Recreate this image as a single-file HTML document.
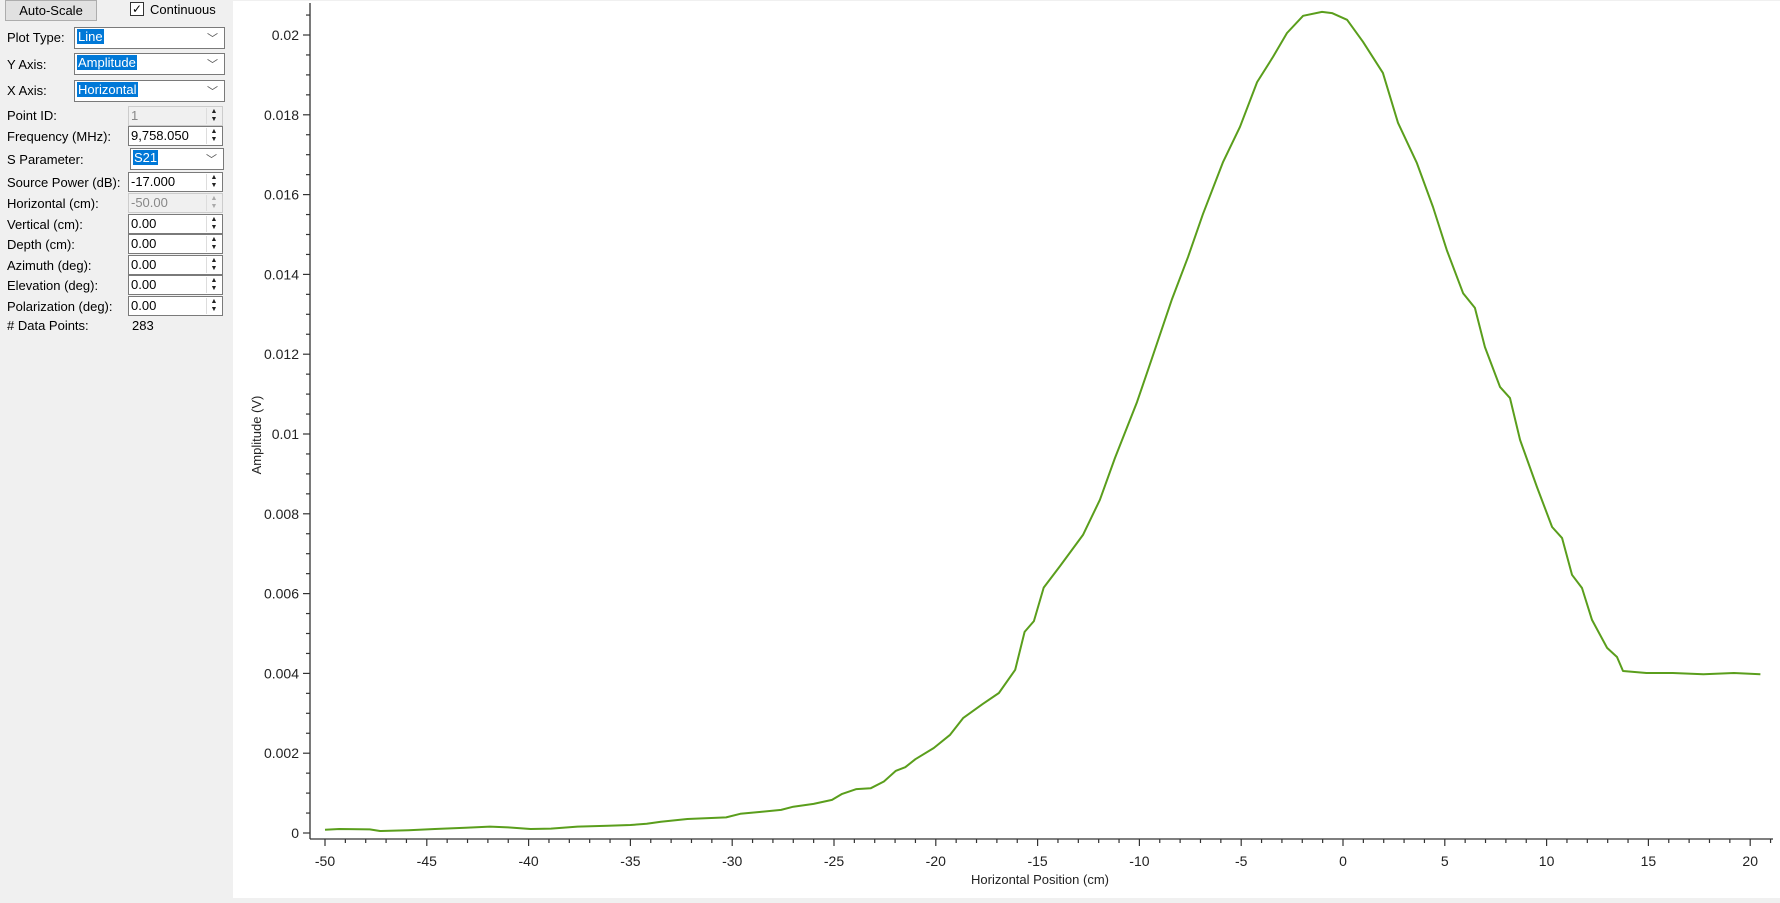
<!DOCTYPE html>
<html><head><meta charset="utf-8">
<style>
body{margin:0;width:1780px;height:903px;overflow:hidden;background:#f0f0f0;font-family:"Liberation Sans",sans-serif;position:relative}
.a{position:absolute}
.lbl{position:absolute;left:7px;font-size:13px;color:#000;line-height:16px}
.box{position:absolute;background:#fff;border:1px solid #7a7a7a;box-sizing:border-box;font-size:13px;line-height:18px;padding-left:2px}
.sel{background:#0078d7;color:#fff;padding:0 1px}
.dd{position:absolute;right:6px;top:2px;font-size:11px;color:#555}
.spin{position:absolute;right:1px;top:1px;width:14px;height:16px;border-left:1px solid #ddd;font-size:7px;line-height:8px;text-align:center;color:#222}
.dis{background:#f0f0f0;color:#888;border-color:#ccc}
</style></head><body>
<div class="a" style="left:5px;top:0;width:92px;height:21px;background:#e1e1e1;border:1px solid #adadad;box-sizing:border-box;font-size:13px;text-align:center;line-height:19px">Auto-Scale</div>
<div class="a" style="left:130px;top:2px;width:14px;height:14px;border:1px solid #333;box-sizing:border-box;background:#fff;font-size:12px;line-height:12px;text-align:center">✓</div>
<div class="a" style="left:150px;top:2px;font-size:13px">Continuous</div>

<div class="lbl" style="top:30px">Plot Type:</div>
<div class="box" style="left:74px;top:27px;width:151px;height:22px"><span class="sel">Line</span><span class="dd">﹀</span></div>
<div class="lbl" style="top:57px">Y Axis:</div>
<div class="box" style="left:74px;top:53px;width:151px;height:22px"><span class="sel">Amplitude</span><span class="dd">﹀</span></div>
<div class="lbl" style="top:83px">X Axis:</div>
<div class="box" style="left:74px;top:80px;width:151px;height:22px"><span class="sel">Horizontal</span><span class="dd">﹀</span></div>

<div class="lbl" style="top:108px">Point ID:</div>
<div class="box dis" style="left:128px;top:106px;width:95px;height:20px">1<div class="spin">▲<br>▼</div></div>
<div class="lbl" style="top:129px">Frequency (MHz):</div>
<div class="box" style="left:128px;top:126px;width:95px;height:20px">9,758.050<div class="spin">▲<br>▼</div></div>
<div class="lbl" style="top:152px">S Parameter:</div>
<div class="box" style="left:130px;top:148px;width:94px;height:22px"><span class="sel">S21</span><span class="dd">﹀</span></div>

<div class="lbl" style="top:175px">Source Power (dB):</div>
<div class="box" style="left:128px;top:172px;width:95px;height:20px">-17.000<div class="spin">▲<br>▼</div></div>
<div class="lbl" style="top:196px">Horizontal (cm):</div>
<div class="box dis" style="left:128px;top:193px;width:95px;height:20px">-50.00<div class="spin" style="color:#aaa">▲<br>▼</div></div>
<div class="lbl" style="top:217px">Vertical (cm):</div>
<div class="box" style="left:128px;top:214px;width:95px;height:20px">0.00<div class="spin">▲<br>▼</div></div>
<div class="lbl" style="top:237px">Depth (cm):</div>
<div class="box" style="left:128px;top:234px;width:95px;height:20px">0.00<div class="spin">▲<br>▼</div></div>
<div class="lbl" style="top:258px">Azimuth (deg):</div>
<div class="box" style="left:128px;top:255px;width:95px;height:20px">0.00<div class="spin">▲<br>▼</div></div>
<div class="lbl" style="top:278px">Elevation (deg):</div>
<div class="box" style="left:128px;top:275px;width:95px;height:20px">0.00<div class="spin">▲<br>▼</div></div>
<div class="lbl" style="top:299px">Polarization (deg):</div>
<div class="box" style="left:128px;top:296px;width:95px;height:20px">0.00<div class="spin">▲<br>▼</div></div>
<div class="lbl" style="top:318px">#&nbsp;Data Points:</div>
<div class="a" style="left:132px;top:318px;font-size:13px">283</div>

<svg id="chart" class="a" style="left:0;top:0" width="1780" height="903" xmlns="http://www.w3.org/2000/svg"></svg>
<script>
const xVals=[-50,-49.3,-47.8,-47.3,-45.9,-44.6,-43.1,-41.9,-41.0,-39.9,-38.9,-37.6,-36.1,-35.0,-34.2,-33.5,-32.2,-30.3,-29.6,-28.6,-27.6,-27.0,-26.0,-25.1,-24.6,-23.9,-23.2,-22.55,-21.96,-21.5,-21.0,-20.1,-19.3,-18.66,-17.7,-16.9,-16.1,-15.64,-15.18,-14.7,-13.9,-12.77,-11.94,-11.2,-10.12,-9.38,-8.4,-7.61,-6.88,-5.89,-5.06,-4.22,-3.44,-2.75,-1.96,-1.03,-0.54,0.2,0.98,1.96,2.7,3.63,4.42,5.1,5.9,6.48,6.97,7.71,8.2,8.7,9.53,10.27,10.76,11.25,11.74,12.23,12.97,13.46,13.75,14.9,16.2,17.7,19.2,20.5];
const ampVals=[0.00008,0.0001,0.00009,0.00005,0.00007,0.0001,0.00013,0.00016,0.00014,0.0001,0.00011,0.00016,0.00018,0.0002,0.00023,0.00028,0.00035,0.00039,0.00048,0.00053,0.00058,0.00066,0.00073,0.00083,0.00098,0.0011,0.00112,0.00129,0.00156,0.00165,0.00185,0.00213,0.00246,0.00288,0.00323,0.00351,0.00409,0.00504,0.00531,0.00615,0.00669,0.00747,0.00835,0.0094,0.0108,0.0119,0.01338,0.01444,0.01551,0.01682,0.0177,0.01882,0.01945,0.02005,0.02048,0.02058,0.02055,0.02038,0.01983,0.01905,0.0178,0.01679,0.01569,0.01461,0.01353,0.01316,0.01218,0.01118,0.0109,0.00985,0.00867,0.00767,0.00739,0.00647,0.00614,0.00534,0.00464,0.00441,0.00406,0.00401,0.00401,0.00398,0.00401,0.00398];
const xTickLabels=["-50","-45","-40","-35","-30","-25","-20","-15","-10","-5","0","5","10","15","20"];
const yTickLabels=["0","0.002","0.004","0.006","0.008","0.01","0.012","0.014","0.016","0.018","0.02"];
const NS="http://www.w3.org/2000/svg";
const svg=document.getElementById('chart');
function X(v){return 1343+v*20.36;}
function Y(v){return 833-v/0.002*79.8;}
function mk(t,a){const e=document.createElementNS(NS,t);for(const k in a)e.setAttribute(k,a[k]);svg.appendChild(e);return e;}
const bg=mk('rect',{x:233,y:1,width:1547,height:897,fill:'#fff'});


const ya=mk('line',{x1:310,y1:3,x2:310,y2:839,stroke:'#333','stroke-width':1.3});


const xa=mk('line',{x1:310,y1:839,x2:1773,y2:839,stroke:'#333','stroke-width':1.3});


for(let i=0;i<=41;i++){const v=i*0.0005;const y=Y(v);if(y<3)continue;const maj=i%4===0;
 const t=mk('line',{x1:maj?303:306,y1:y,x2:310,y2:y,stroke:'#333','stroke-width':1.2});
 
 }
yTickLabels.forEach(function(s){const y=Y(parseFloat(s));const t=mk('text',{x:299,y:y+5,'text-anchor':'end','font-size':14,fill:'#222','font-family':'Liberation Sans, sans-serif'});t.textContent=s;
 
 });
for(let v=-50;v<=21;v++){const x=X(v);const maj=v%5===0;
 const t=mk('line',{x1:x,y1:839,x2:x,y2:maj?846:843,stroke:'#333','stroke-width':1.2});
 
 }
xTickLabels.forEach(function(s){const x=X(parseFloat(s));const t=mk('text',{x:x,y:866,'text-anchor':'middle','font-size':14,fill:'#222','font-family':'Liberation Sans, sans-serif'});t.textContent=s;
 
 });
const xt=mk('text',{x:1040,y:884,'text-anchor':'middle','font-size':13,fill:'#222','font-family':'Liberation Sans, sans-serif'});xt.textContent='Horizontal Position (cm)';


const yt=mk('text',{x:0,y:0,'text-anchor':'middle','font-size':13,fill:'#222','font-family':'Liberation Sans, sans-serif',transform:'translate(261,435) rotate(-90)'});yt.textContent='Amplitude (V)';


let d='';xVals.forEach(function(v,i){d+=(i?'L':'M')+X(v).toFixed(1)+','+Y(ampVals[i]).toFixed(1);});
const ln=mk('path',{d:d,fill:'none',stroke:'#5a9e1c','stroke-width':2,'stroke-linejoin':'round'});


</script>
</body></html>
